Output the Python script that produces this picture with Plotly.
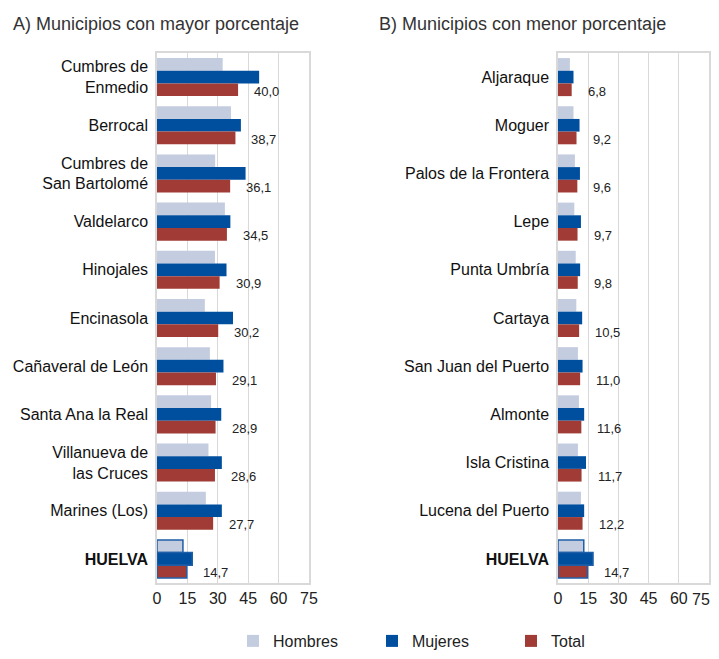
import plotly.graph_objects as go

# ---- Data ----
left_categories = ["Cumbres de<br>Enmedio", "Berrocal", "Cumbres de<br>San Bartolomé", "Valdelarco",
                   "Hinojales", "Encinasola", "Cañaveral de León", "Santa Ana la Real",
                   "Villanueva de<br>las Cruces", "Marines (Los)", "<b>HUELVA</b>"]
left_hombres = [32.4, 36.5, 28.7, 33.5, 28.6, 23.6, 26.1, 26.7, 25.4, 24.1, 12.8]
left_mujeres = [50.4, 41.4, 43.7, 36.2, 34.3, 37.5, 32.8, 31.7, 32.0, 32.0, 17.4]
left_total = [40.0, 38.7, 36.1, 34.5, 30.9, 30.2, 29.1, 28.9, 28.6, 27.7, 14.7]

right_categories = ["Aljaraque", "Moguer", "Palos de la Frontera", "Lepe", "Punta Umbría",
                    "Cartaya", "San Juan del Puerto", "Almonte", "Isla Cristina",
                    "Lucena del Puerto", "<b>HUELVA</b>"]
right_hombres = [5.9, 7.7, 8.4, 8.1, 8.8, 9.1, 9.9, 10.4, 9.9, 11.4, 12.8]
right_mujeres = [7.7, 10.7, 10.9, 11.4, 11.0, 12.0, 12.2, 13.0, 13.9, 13.0, 17.4]
right_total = [6.8, 9.2, 9.6, 9.7, 9.8, 10.5, 11.0, 11.6, 11.7, 12.2, 14.7]

x_ticks = [0, 15, 30, 45, 60, 75]
series_names = ["Hombres", "Mujeres", "Total"]
series_colors = ["#c4cce0", "#004f9f", "#a03c35"]
titles = ["A) Municipios con mayor porcentaje", "B) Municipios con menor porcentaje"]

FONT = "Liberation Sans, Arial, sans-serif"
OFF = 8                      # page body margin compensation
W, H = 719 - OFF, 659 - 2 * OFF
OUTLINE = "#1f5fa8"

fig = go.Figure()

panels = [
    (left_categories, [left_hombres, left_mujeres, left_total], "x", "y"),
    (right_categories, [right_hombres, right_mujeres, right_total], "x2", "y2"),
]

for pi, (cats, vals, xa, ya) in enumerate(panels):
    n = len(cats)
    lw = [0] * (n - 1) + [1.5]
    for si, (name, color) in enumerate(zip(series_names, series_colors)):
        fig.add_trace(go.Bar(
            y=cats, x=vals[si], orientation="h", name=name,
            marker=dict(color=color, line=dict(color=OUTLINE, width=lw)),
            xaxis=xa, yaxis=ya, showlegend=(pi == 0), hoverinfo="skip",
        ))
    totals = vals[2]
    for c, t in zip(cats, totals):
        fig.add_annotation(
            x=t, y=c, xref=xa, yref=ya, text=f"{t:.1f}".replace(".", ","),
            showarrow=False, xanchor="left", yanchor="middle", xshift=14, yshift=-14,
            font=dict(family=FONT, size=13, color="#222222"),
        )


def px_x(p):
    return (p - OFF) / W


def px_y(p):
    return 1 - (p - OFF) / H


TICKFONT = dict(family=FONT, size=16, color="#222222")
ydom = [px_y(583), px_y(53)]
axis_common = dict(
    range=[0, 75], tickvals=x_ticks,
    showgrid=True, gridcolor="#d9d9d9", gridwidth=1,
    showline=True, linecolor="#d9d9d9", linewidth=1.5, mirror=True,
    zeroline=False, ticks="", tickfont=TICKFONT,
    ticklabeloverflow="allow", fixedrange=True,
)
yaxis_common = dict(
    autorange="reversed", type="category", showgrid=False, ticks="",
    showline=True, linecolor="#d9d9d9", linewidth=1.5, mirror=True,
    tickfont=dict(family=FONT, size=16, color="#111111"), ticklabelstandoff=4,
)

# right panel: last tick label drawn as annotation so it stays inside the page edge
right_ticktext = [str(v) for v in x_ticks[:-1]] + [""]

fig.update_layout(
    width=W, height=H,
    margin=dict(l=0, r=0, t=0, b=0, autoexpand=False),
    paper_bgcolor="white", plot_bgcolor="white",
    barmode="group", bargap=0.21, bargroupgap=0,
    font=dict(family=FONT, size=16, color="#222222"),
    xaxis=dict(domain=[px_x(157), px_x(309)], anchor="y",
               ticktext=[str(v) for v in x_ticks], **axis_common),
    yaxis=dict(domain=ydom, anchor="x", **yaxis_common),
    xaxis2=dict(domain=[px_x(558), px_x(709)], anchor="y2",
                ticktext=right_ticktext, **axis_common),
    yaxis2=dict(domain=ydom, anchor="x2", **yaxis_common),
    legend=dict(
        orientation="h", x=px_x(233), y=px_y(641), xanchor="left", yanchor="middle",
        font=dict(family=FONT, size=16, color="#222222"),
        entrywidth=94, entrywidthmode="pixels", traceorder="normal",
        itemclick=False, itemdoubleclick=False,
    ),
    showlegend=True,
)

fig.add_annotation(
    x=x_ticks[-1], xref="x2", y=px_y(599), yref="paper", text=str(x_ticks[-1]),
    showarrow=False, xanchor="right", yanchor="middle", xshift=3,
    font=TICKFONT,
)

for i, t in enumerate(titles):
    fig.add_annotation(
        x=px_x(11 if i == 0 else 377), y=px_y(24), xref="paper", yref="paper",
        text=t, showarrow=False, xanchor="left", yanchor="middle",
        font=dict(family=FONT, size=18, color="#333333"),
    )

fig.write_html("out.html")
